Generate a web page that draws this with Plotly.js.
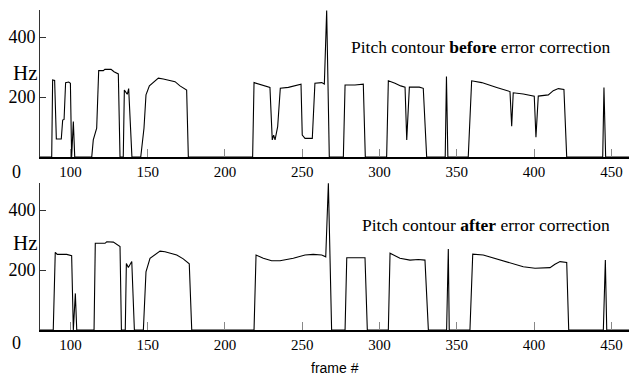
<!DOCTYPE html>
<html><head><meta charset="utf-8">
<script src="https://cdn.plot.ly/plotly-3.0.1.min.js"></script>
<style>html,body{margin:0;padding:0;background:#fff}#c{width:629px;height:376px}</style>
</head><body><div id="c"></div>
<script>
// Pitch contour before error correction (frame, Hz breakpoints)
const topFrames = [80,87.9,88.5,89.8,90.9,94.1,95.0,95.9,96.9,98.9,100.0,100.8,101.9,102.8,
 113.8,114.8,117.0,118.3,121.3,122.3,126.3,128.2,131.0,132.1,
 134.2,134.9,136.8,137.7,139.8,
 145.5,147.6,148.9,151.1,156.9,160.1,167.7,170.9,175.2,176.3,
 217.9,218.8,223.7,229.1,230.6,231.5,232.4,234.1,235.8,241.0,249.2,250.0,251.8,256.5,258.2,262.6,264.3,265.8,267.5,
 276.6,277.7,284.1,289.5,290.8,
 304.6,305.7,310.0,313.7,316.5,317.6,319.3,325.7,328.3,330.5,
 342.5,343.3,344.2,
 357.4,359.6,366.1,375.8,384.4,385.5,386.5,393.0,400.1,401.2,402.7,409.2,412.4,415.7,419.3,421.1,
 444.4,445.2,446.3,462];
const topHz = [0,0,257,255,60,60,123,125,248,250,246,0,118,0,
 0,57,96,288,288,292,292,284,277,0,
 0,223,209,228,0,
 0,96,207,237,263,260,251,237,223,0,
 0,248,240,232,57,73,57,101,229,232,243,73,62,62,246,248,243,488,0,
 0,240,240,243,0,
 0,254,246,237,233,57,233,233,229,0,
 0,268,0,
 0,254,248,232,218,103,214,210,203,66,203,207,221,228,225,0,
 0,232,0,0];

// Pitch contour after error correction
const botFrames = [80,88.9,90.2,91.5,97.6,100.8,101.9,103.2,104.1,
 115.3,116.1,122.4,123.5,127.8,132.1,133.0,
 135.5,136.2,137.5,139.7,141.4,
 147.2,148.9,151.5,158.0,161.2,168.8,173.0,176.9,178.5,
 218.8,220.1,224.8,230.2,235.6,244.2,251.8,257.1,262.6,265.2,266.9,269.0,
 277.7,278.8,290.6,292.1,
 305.7,306.8,313.2,319.7,325.1,329.4,331.6,
 343.4,344.5,345.1,
 358.5,360.3,367.1,375.8,384.4,393.0,400.6,410.3,413.5,416.8,421.1,422.4,
 444.8,446.1,447.0,462];
const botHz = [0,0,259,252,252,248,0,122,0,
 0,289,289,294,293,278,0,
 0,222,208,228,0,
 0,194,239,263,261,250,237,221,0,
 0,250,239,231,231,239,250,252,250,244,489,0,
 0,241,241,0,
 0,256,239,233,235,233,0,
 0,270,0,
 0,253,250,237,222,211,206,208,219,228,225,0,
 0,233,0,0];

const xTicks = [100,150,200,250,300,350,400,450];
const yTicks = [200,400];
const titles = ['Pitch contour <b>before</b> error correction','Pitch contour <b>after</b> error correction'];
const xLabel = 'frame #';
const yLabel = 'Hz';

const W = 629, H = 376;
const serif = '"Liberation Serif", "Times New Roman", serif';
const line = {color:'#000', width:1.1};

const traces = [
 {x: topFrames, y: topHz, type:'scatter', mode:'lines', line, xaxis:'x', yaxis:'y', hoverinfo:'skip'},
 {x: botFrames, y: botHz, type:'scatter', mode:'lines', line, xaxis:'x2', yaxis:'y2', hoverinfo:'skip'}
];

const xr = [80.33, 461.4];
function xax(anchor){
 return {domain:[40/W,1], range:xr, anchor, showgrid:false, zeroline:false,
  showline:true, linecolor:'#000', linewidth:2,
  ticks:'inside', ticklen:8, tickwidth:1, tickcolor:'#888',
  tickvals:xTicks, ticktext:xTicks.map(String),
  tickfont:{family:serif, size:15, color:'#000'}};
}
function yax(anchor, d){
 return {domain:d, range:[0,490], anchor, showgrid:false, zeroline:false,
  showline:true, linecolor:'#333', linewidth:1,
  ticks:'inside', ticklen:6, tickwidth:1, tickcolor:'#333',
  tickvals:yTicks, ticktext:yTicks.map(String),
  tickfont:{family:serif, size:18, color:'#000'}};
}
const layout = {
 width:W, height:H, margin:{l:0,r:0,t:0,b:0}, showlegend:false,
 paper_bgcolor:'#fff', plot_bgcolor:'#fff',
 xaxis: xax('y'), yaxis: yax('x',[1-157/H, 1-10/H]),
 xaxis2: xax('y2'), yaxis2: yax('x2',[1-330/H, 1-183/H]),
 annotations:[
  {text:titles[0], xref:'paper', yref:'paper', x:612/W, y:1-47/H, xanchor:'right', yanchor:'middle', showarrow:false, font:{family:serif, size:17.5, color:'#000'}},
  {text:titles[1], xref:'paper', yref:'paper', x:612/W, y:1-225/H, xanchor:'right', yanchor:'middle', showarrow:false, font:{family:serif, size:17.5, color:'#000'}},
  {text:yLabel, xref:'paper', yref:'paper', x:25/W, y:1-73/H, xanchor:'center', yanchor:'middle', showarrow:false, font:{family:serif, size:21, color:'#000'}},
  {text:yLabel, xref:'paper', yref:'paper', x:25/W, y:1-243/H, xanchor:'center', yanchor:'middle', showarrow:false, font:{family:serif, size:21, color:'#000'}},
  {text:'0', xref:'paper', yref:'paper', x:16/W, y:1-172/H, xanchor:'center', yanchor:'middle', showarrow:false, font:{family:serif, size:18, color:'#000'}},
  {text:'0', xref:'paper', yref:'paper', x:16/W, y:1-343/H, xanchor:'center', yanchor:'middle', showarrow:false, font:{family:serif, size:18, color:'#000'}},
  {text:xLabel, xref:'paper', yref:'paper', x:334.5/W, y:1-368/H, xanchor:'center', yanchor:'middle', showarrow:false, font:{family:'"Liberation Sans", Arial, sans-serif', size:14, color:'#000'}}
 ]
};
Plotly.newPlot('c', traces, layout, {staticPlot:true, displayModeBar:false});
</script></body></html>
